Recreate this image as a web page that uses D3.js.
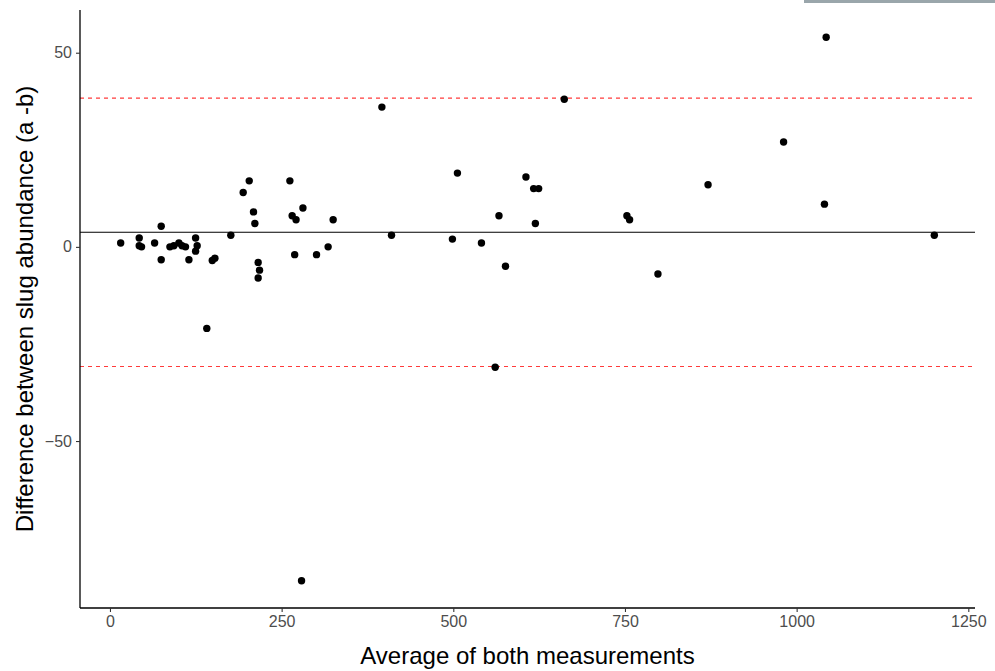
<!DOCTYPE html>
<html>
<head>
<meta charset="utf-8">
<script src="https://cdn.jsdelivr.net/npm/d3@7"></script>
<style>
  body { margin: 0; background: #fff; }
  svg { display: block; }
</style>
</head>
<body>
<svg id="chart" width="995" height="671"></svg>
<script>
// ---- data ----
const avgValues = [15.6, 42.6, 42.6, 46, 65, 74.6, 74.6, 87.3, 93, 100.4, 105, 110, 115, 124.7, 127, 124.7,
  141, 149, 152.8, 176, 194, 202.8, 209, 211, 215.8, 217.8, 215.8, 262, 265.3, 271, 281, 269, 279,
  300.8, 317.7, 325, 396, 410, 498.7, 506, 541, 561, 566.5, 576, 605.8, 617, 624.3, 619.5, 661.6,
  752.8, 756.7, 798, 871, 981, 1040.5, 1043, 1200.5];
const diffValues = [1, 2.3, 0.3, 0, 1, 5.3, -3.3, 0, 0.3, 1, 0.3, 0, -3.3, 2.3, 0.3, -1.1,
  -21, -3.5, -2.9, 3, 14, 17, 9, 6, -4, -6, -8, 17, 8, 7, 10, -2, -86,
  -2, 0, 7, 36, 3, 2, 19, 1, -31, 8, -5, 18, 15, 15, 6, 38,
  8, 7, -7, 16, 27, 11, 54, 3];
const meanDiff = 3.75;
const upperLimit = 38.3;
const lowerLimit = -30.8;
const xTicks = [0, 250, 500, 750, 1000, 1250];
const yTicks = [-50, 0, 50];
const xTitle = "Average of both measurements";
const yTitle = "Difference between slug abundance (a -b)";

// ---- layout ----
const svg = d3.select("#chart");
const margin = { left: 80, right: 20, top: 10, bottom: 63 };
const W = 995, H = 671;
const pw = W - margin.left - margin.right;
const ph = H - margin.top - margin.bottom;
const FONT = "Liberation Sans, Arial, sans-serif";

function expand(ext, f = 0.05) {
  const r = ext[1] - ext[0];
  return [ext[0] - r * f, ext[1] + r * f];
}
const x = d3.scaleLinear().domain(expand(d3.extent(avgValues))).range([margin.left, margin.left + pw]);
const yExt = d3.extent(diffValues.concat([upperLimit, lowerLimit]));
const y = d3.scaleLinear().domain(expand(yExt)).range([margin.top + ph, margin.top]);

// grey strip at top right (present in reference)
svg.append("rect").attr("x", 804).attr("y", 0).attr("width", 191).attr("height", 3).attr("fill", "#9aa6ab");

// reference lines
const x0 = margin.left, x1 = margin.left + pw;
svg.append("line").attr("x1", x0).attr("x2", x1).attr("y1", y(meanDiff)).attr("y2", y(meanDiff))
  .attr("stroke", "#000").attr("stroke-width", 1.1);
[upperLimit, lowerLimit].forEach(v => {
  svg.append("line").attr("x1", x0).attr("x2", x1).attr("y1", y(v)).attr("y2", y(v))
    .attr("stroke", "#ff3b3b").attr("stroke-width", 1.1).attr("stroke-dasharray", "4,4");
});

// points
svg.append("g").selectAll("circle").data(avgValues.map((a, i) => [a, diffValues[i]])).join("circle")
  .attr("cx", d => x(d[0])).attr("cy", d => y(d[1])).attr("r", 3.7).attr("fill", "#000");

// axes
const xAxis = d3.axisBottom(x).tickValues(xTicks).tickSize(4).tickPadding(4).tickSizeOuter(0)
  .tickFormat(d => String(d));
const yAxis = d3.axisLeft(y).tickValues(yTicks).tickSize(4).tickPadding(4).tickSizeOuter(0)
  .tickFormat(d => d < 0 ? "\u2212" + Math.abs(d) : String(d));

const gx = svg.append("g").attr("transform", `translate(0,${margin.top + ph})`).call(xAxis);
const gy = svg.append("g").attr("transform", `translate(${margin.left},0)`).call(yAxis);
[gx, gy].forEach(g => {
  g.select(".domain").attr("stroke", "#000").attr("stroke-width", 1.3);
  g.selectAll(".tick line").attr("stroke", "#333").attr("stroke-width", 1.1);
  g.selectAll(".tick text").attr("fill", "#4d4d4d").style("font-family", FONT)
    .style("font-size", "16px");
});
gx.select(".domain").attr("d", `M${x0},0H${x1}`);
gy.select(".domain").attr("d", `M0,${margin.top}V${margin.top + ph}`);

// titles
svg.append("text").attr("x", x0 + pw / 2).attr("y", 664).attr("text-anchor", "middle")
  .style("font-family", FONT).style("font-size", "24px").attr("fill", "#000")
  .text(xTitle);
svg.append("text").attr("transform", `translate(33,${margin.top + ph / 2}) rotate(-90)`).attr("text-anchor", "middle")
  .style("font-family", FONT).style("font-size", "24px").attr("fill", "#000")
  .text(yTitle);
</script>
</body>
</html>
